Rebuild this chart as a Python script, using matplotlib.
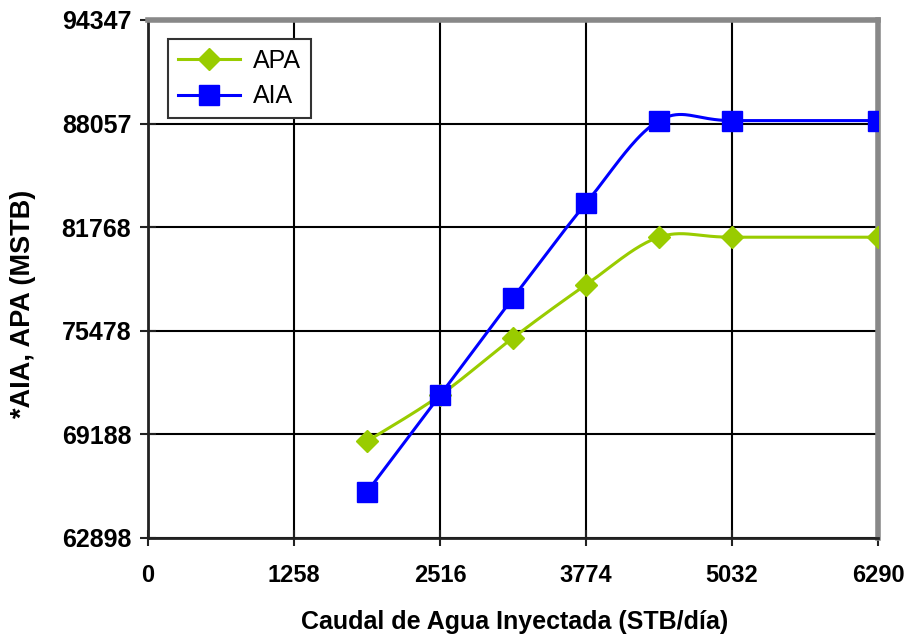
import numpy as np
import matplotlib
matplotlib.use("Agg")
import matplotlib.pyplot as plt

x_vals = [1887, 2516, 3145, 3774, 4403, 5032, 6290]
apa = [68770, 71560, 75050, 78270, 81160, 81160, 81160]
aia = [65690, 71560, 77480, 83220, 88240, 88240, 88240]
x_ticks = [0, 1258, 2516, 3774, 5032, 6290]
y_ticks = [62898, 69188, 75478, 81768, 88057, 94347]

def smooth(xs, ys, n=40):
    P = np.column_stack([xs, ys]).astype(float)
    out = []
    for i in range(len(P) - 1):
        p0 = P[i - 1] if i > 0 else P[i]
        p1, p2 = P[i], P[i + 1]
        p3 = P[i + 2] if i + 2 < len(P) else P[i + 1]
        c1 = p1 + (p2 - p0) / 6.0
        c2 = p2 - (p3 - p1) / 6.0
        t = np.linspace(0, 1, n)[:, None]
        seg = ((1 - t) ** 3) * p1 + 3 * ((1 - t) ** 2) * t * c1 + 3 * (1 - t) * t ** 2 * c2 + t ** 3 * p2
        out.append(seg if i == 0 else seg[1:])
    s = np.vstack(out)
    return s[:, 0], s[:, 1]

fig = plt.figure(figsize=(9.15, 6.4), dpi=100)
ax = fig.add_axes([148 / 915, 102 / 640, 730 / 915, 518 / 640])

green = '#99CC00'
blue = '#0000FF'
fam = ['Liberation Sans', 'DejaVu Sans']

sx, sy = smooth(x_vals, apa)
ax.plot(sx, sy, color=green, lw=2.2, zorder=3)
ax.plot(x_vals, apa, ls='none', marker='D', ms=11, color=green, zorder=4)
sx, sy = smooth(x_vals, aia)
ax.plot(sx, sy, color=blue, lw=2.2, zorder=3)
ax.plot(x_vals, aia, ls='none', marker='s', ms=14, color=blue, zorder=4)

# legend proxies
ax.plot([], [], color=green, lw=2.2, marker='D', ms=11, label='APA')
ax.plot([], [], color=blue, lw=2.2, marker='s', ms=14, label='AIA')

ax.set_xlim(0, 6290)
ax.set_ylim(62898, 94347)
ax.set_xticks(x_ticks)
ax.set_yticks(y_ticks)
ax.set_xticklabels([str(v) for v in x_ticks])
ax.set_yticklabels([str(v) for v in y_ticks])
ax.grid(True, color='black', lw=1.5, zorder=1)
ax.set_axisbelow(True)

for s in ['left', 'bottom']:
    ax.spines[s].set_color('#222222')
    ax.spines[s].set_linewidth(2)
for s in ['top', 'right']:
    ax.spines[s].set_color('#888888')
    ax.spines[s].set_linewidth(4)

ax.tick_params(axis='both', direction='inout', length=12, width=1.5, color='#222222')
ax.tick_params(axis='x', pad=13)
ax.tick_params(axis='y', pad=6)

for lab in ax.get_yticklabels():
    lab.set_fontfamily(fam)
    lab.set_fontweight('bold')
    lab.set_fontsize(18)
for lab in ax.get_xticklabels():
    lab.set_fontfamily(fam)
    lab.set_fontweight('bold')
    lab.set_fontsize(17)

ax.set_xlabel('Caudal de Agua Inyectada (STB/día)', fontsize=18, fontweight='bold',
              family=fam)
ax.xaxis.set_label_coords((515 - 148) / 730, -(622 - 538) / 518)
ax.xaxis.label.set_va('center')
ax.set_ylabel('*AIA, APA (MSTB)', fontsize=19.5, fontweight='bold',
              family=fam)
ax.yaxis.set_label_coords((23 - 148) / 730, (538 - 304) / 518)
ax.yaxis.label.set_va('center')

leg = ax.legend(loc='upper left', bbox_to_anchor=(0.027, 0.963), fancybox=False,
                framealpha=1, edgecolor='#333333', prop={'family': 'Liberation Sans', 'size': 18},
                handlelength=2.5, borderpad=0.4, labelspacing=0.45, handletextpad=0.5,
                borderaxespad=0)
leg.get_frame().set_linewidth(1.5)

fig.savefig('out.png', dpi=100)
